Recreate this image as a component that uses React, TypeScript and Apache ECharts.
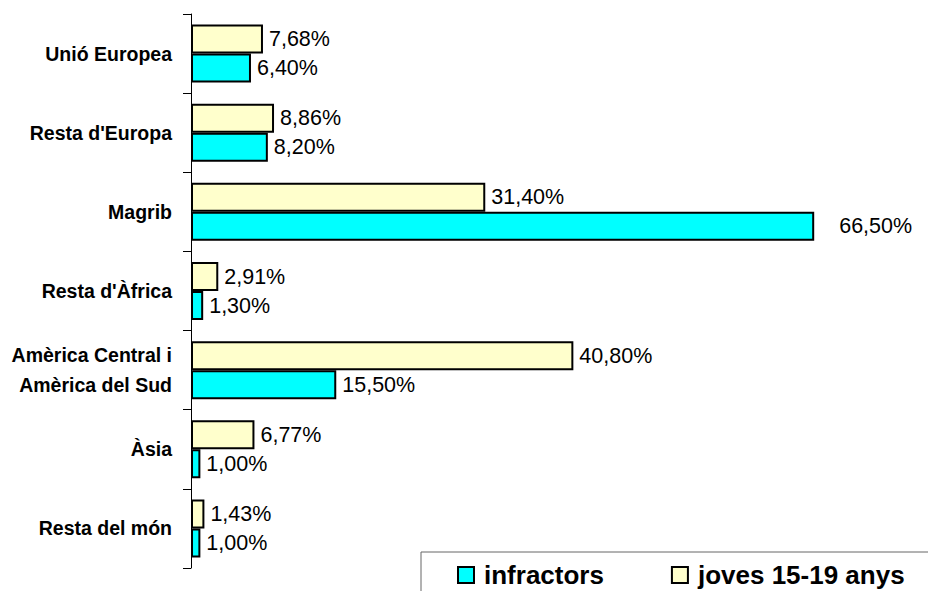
import React, { useEffect, useRef } from "react";
import * as echarts from "echarts";

const categories = [
  "Unió Europea",
  "Resta d'Europa",
  "Magrib",
  "Resta d'Àfrica",
  "Amèrica Central i\nAmèrica del Sud",
  "Àsia",
  "Resta del món",
];
const joves = [7.68, 8.86, 31.4, 2.91, 40.8, 6.77, 1.43];
const infractors = [6.4, 8.2, 66.5, 1.3, 15.5, 1.0, 1.0];
const seriesNames = ["joves 15-19 anys", "infractors"];

const FONT = "'Liberation Sans', Arial, Helvetica, sans-serif";

const fmt = (v: number) => v.toFixed(2).replace(".", ",") + "%";

export default function App() {
  const ref = useRef<HTMLDivElement>(null);
  useEffect(() => {
    if (!ref.current) return;
    const chart = echarts.init(ref.current, null, { renderer: "svg" });
    const labelBase = {
      show: true,
      position: "right" as const,
      distance: 6,
      color: "#000",
      fontFamily: FONT,
      fontSize: 21.5,
      formatter: (p: any) => fmt(p.value),
    };
    chart.setOption({
      animation: false,
      backgroundColor: "#fff",
      textStyle: { fontFamily: FONT },
      grid: { left: 191, right: 81, top: 14, bottom: 23, containLabel: false },
      xAxis: {
        type: "value",
        min: 0,
        max: 70,
        show: false,
      },
      yAxis: {
        type: "category",
        data: categories,
        inverse: true,
        axisLine: { show: true, lineStyle: { color: "#000", width: 1 } },
        axisTick: { show: true, length: 8, lineStyle: { color: "#000" } },
        axisLabel: {
          color: "#000",
          fontFamily: FONT,
          fontWeight: "bold",
          fontSize: 19.5,
          lineHeight: 30,
          margin: 19,
          align: "right",
        },
        splitLine: { show: false },
      },
      legend: {
        data: ["infractors", "joves 15-19 anys"],
        left: 457,
        top: 562,
        padding: 0,
        itemWidth: 16,
        itemHeight: 16,
        itemGap: 67,
        icon: "rect",
        textStyle: {
          color: "#000",
          fontFamily: FONT,
          fontWeight: "bold",
          fontSize: 26,
          padding: [0, 0, 0, 5],
        },
      },
      graphic: [
        {
          type: "rect",
          shape: { x: 421, y: 552, width: 600, height: 100 },
          style: { fill: "none", stroke: "#666", lineWidth: 1 },
          silent: true,
        },
      ],
      series: [
        {
          name: seriesNames[0],
          type: "bar",
          data: joves,
          barWidth: 29,
          barGap: "0%",
          itemStyle: { color: "#FFFFCC", borderColor: "#000", borderWidth: 2 },
          label: labelBase,
        },
        {
          name: seriesNames[1],
          type: "bar",
          data: infractors.map((v, i) =>
            i === 2 ? { value: v, label: { distance: 25 } } : v
          ),
          barWidth: 29,
          barGap: "0%",
          itemStyle: { color: "#00FFFF", borderColor: "#000", borderWidth: 2 },
          label: labelBase,
        },
      ],
    });
    return () => chart.dispose();
  }, []);
  return <div ref={ref} style={{ width: 928, height: 591, position: "absolute", left: 0, top: 0 }} />;
}
